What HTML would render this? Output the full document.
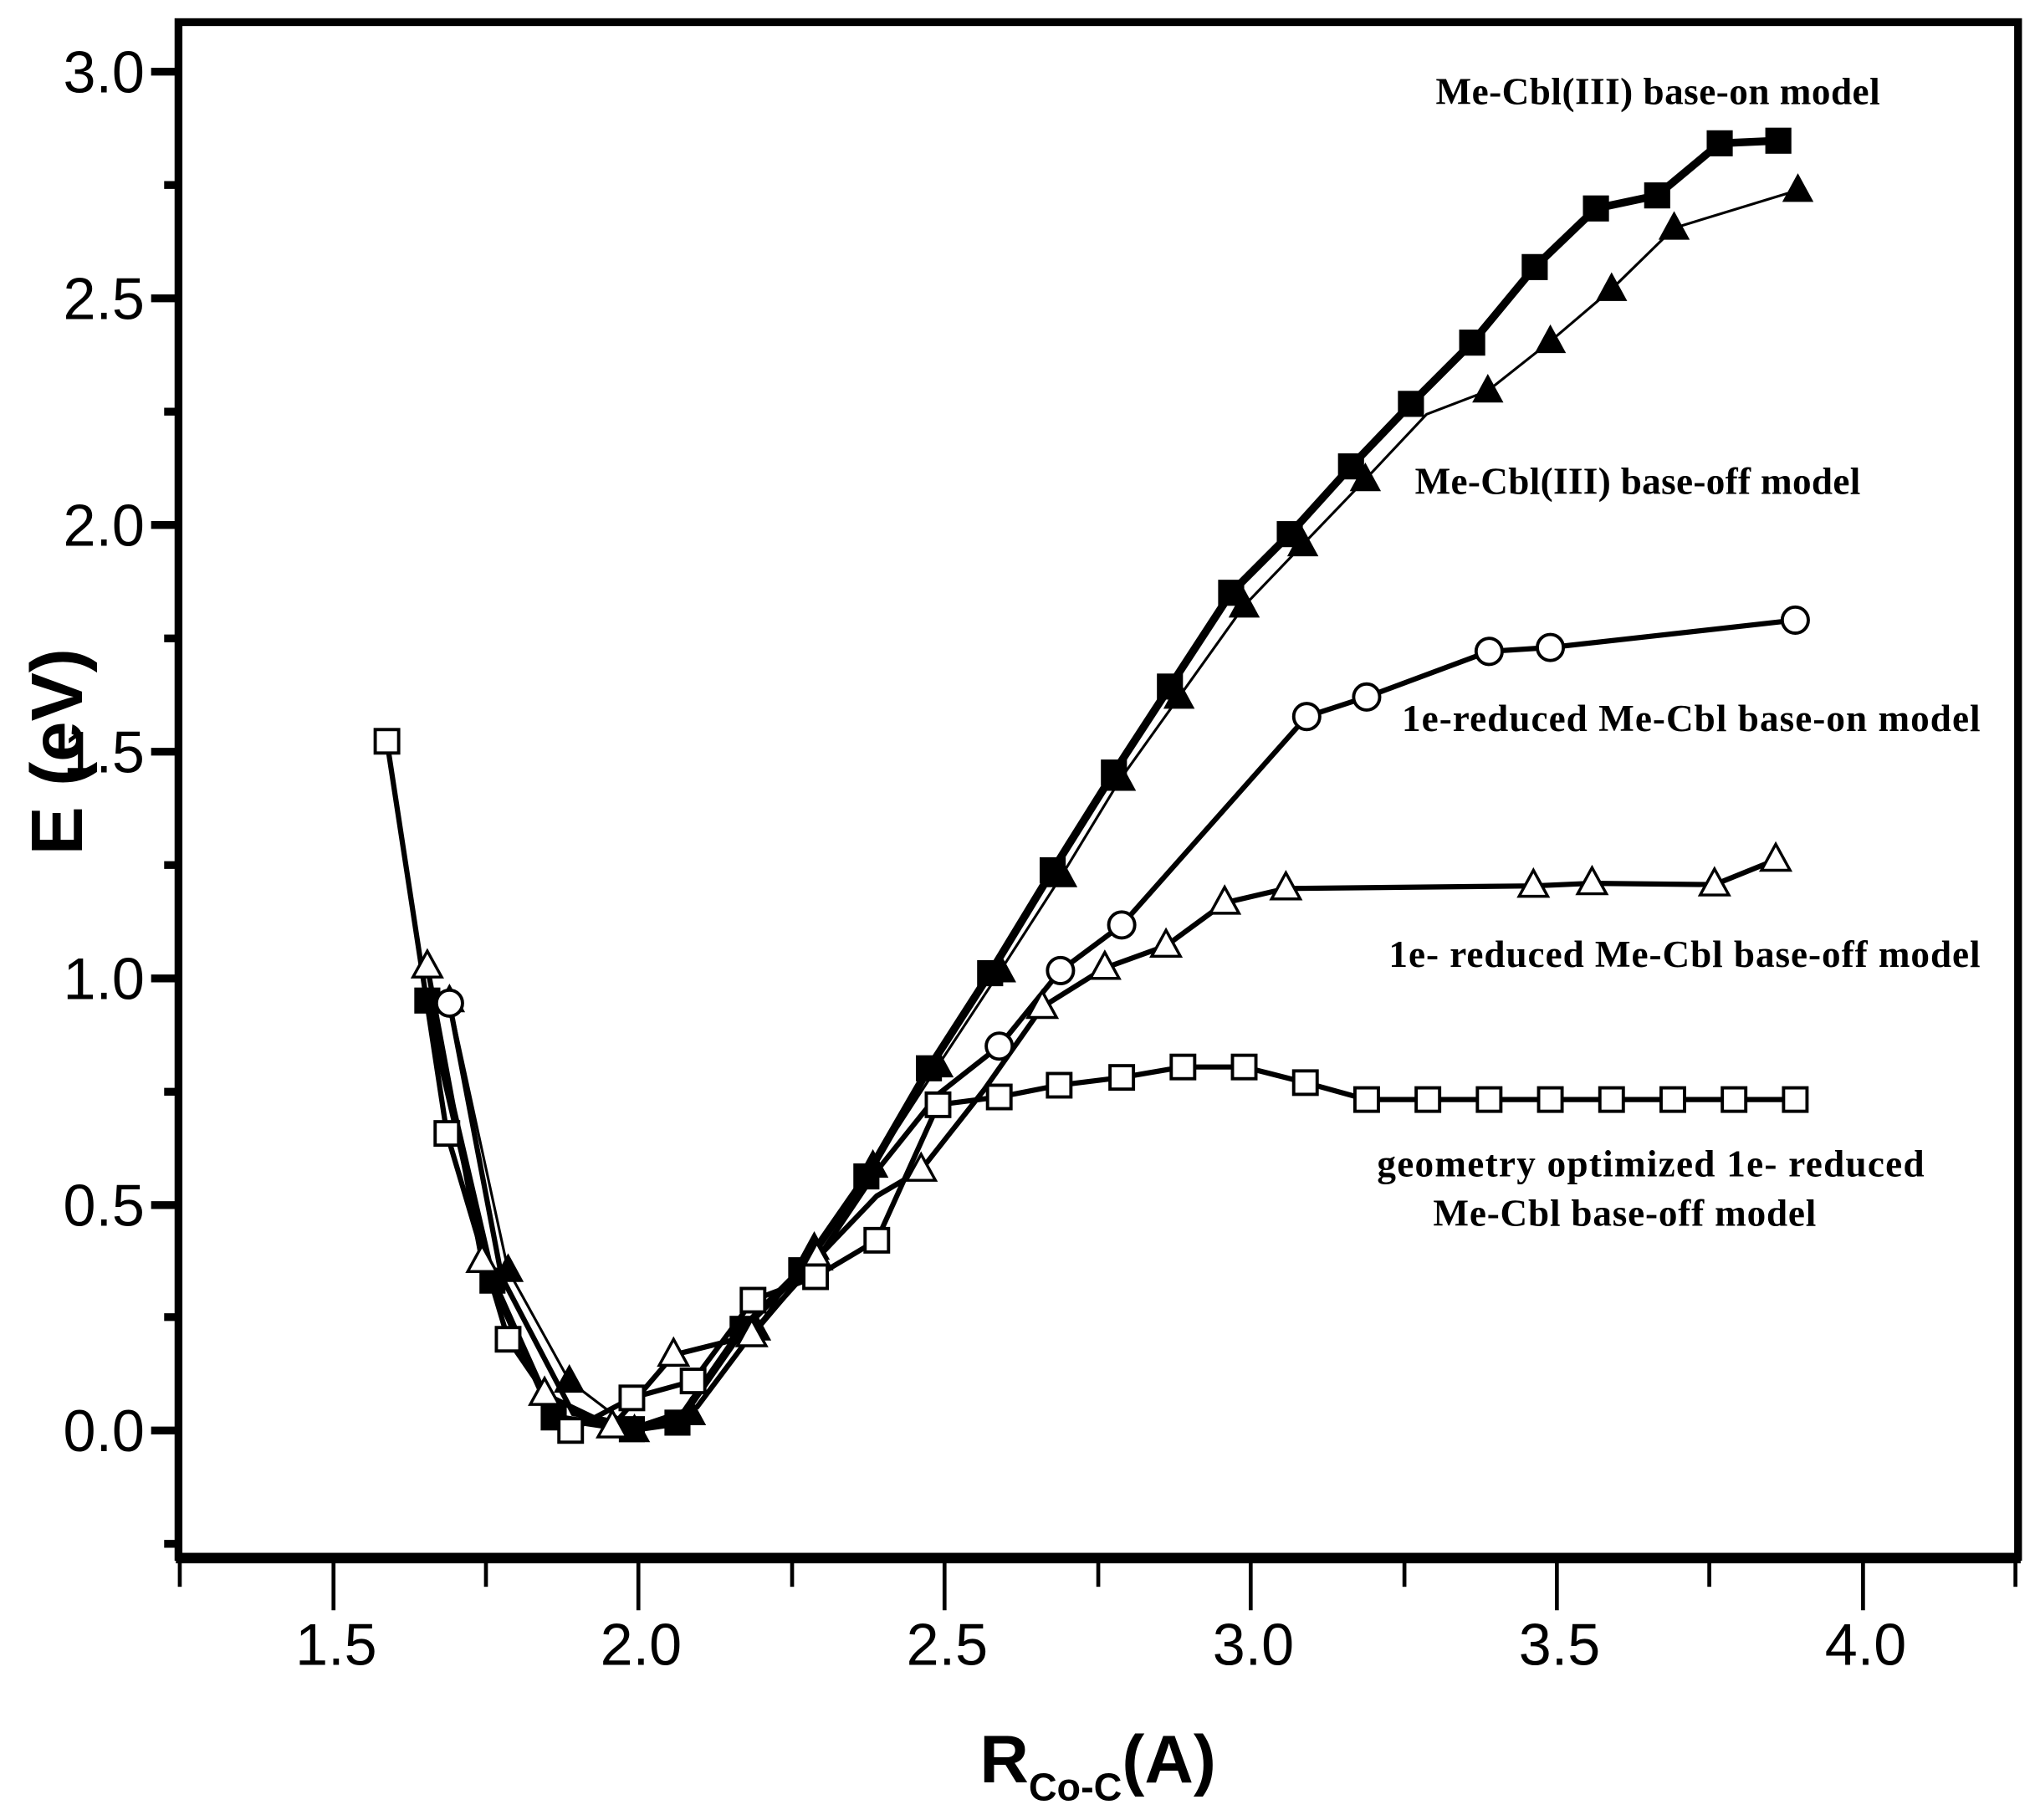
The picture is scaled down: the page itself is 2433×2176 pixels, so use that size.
<!DOCTYPE html>
<html><head><meta charset="utf-8"><style>html,body{margin:0;padding:0;background:#fff}svg{display:block}</style></head><body>
<svg width="2433" height="2176" viewBox="0 0 1562 1397" xmlns="http://www.w3.org/2000/svg" font-family="Liberation Sans, sans-serif">
<defs>
<rect id="fs" x="-10" y="-10" width="20" height="20" fill="#000"/>
<rect id="os" x="-9" y="-9" width="18" height="18" fill="#fff" stroke="#000" stroke-width="2.5"/>
<polygon id="ft" points="0,-13 12,9 -12,9" fill="#000"/>
<polygon id="ot" points="0,-12 11,8 -11,8" fill="#fff" stroke="#000" stroke-width="2.2"/>
<circle id="oc" r="10" fill="#fff" stroke="#000" stroke-width="2.5"/>
</defs>
<rect x="137" y="17" width="1412" height="1178" fill="none" stroke="#000" stroke-width="6"/>
<line x1="135" y1="1196" x2="1551" y2="1196" stroke="#000" stroke-width="8"/>
<g stroke="#000" stroke-width="6">
<line x1="116" y1="55" x2="137" y2="55"/><line x1="126" y1="142" x2="137" y2="142"/>
<line x1="116" y1="229" x2="137" y2="229"/><line x1="126" y1="316" x2="137" y2="316"/>
<line x1="116" y1="403" x2="137" y2="403"/><line x1="126" y1="490" x2="137" y2="490"/>
<line x1="116" y1="577" x2="137" y2="577"/><line x1="126" y1="664" x2="137" y2="664"/>
<line x1="116" y1="751" x2="137" y2="751"/><line x1="126" y1="838" x2="137" y2="838"/>
<line x1="116" y1="925" x2="137" y2="925"/><line x1="126" y1="1011" x2="137" y2="1011"/>
<line x1="116" y1="1098" x2="137" y2="1098"/><line x1="126" y1="1185" x2="137" y2="1185"/>
</g>
<g stroke="#000" stroke-width="3">
<line x1="138" y1="1196" x2="138" y2="1218"/><line x1="256" y1="1196" x2="256" y2="1236"/>
<line x1="373" y1="1196" x2="373" y2="1218"/><line x1="490" y1="1196" x2="490" y2="1236"/>
<line x1="608" y1="1196" x2="608" y2="1218"/><line x1="725" y1="1196" x2="725" y2="1236"/>
<line x1="843" y1="1196" x2="843" y2="1218"/><line x1="960" y1="1196" x2="960" y2="1236"/>
<line x1="1078" y1="1196" x2="1078" y2="1218"/><line x1="1195" y1="1196" x2="1195" y2="1236"/>
<line x1="1312" y1="1196" x2="1312" y2="1218"/><line x1="1430" y1="1196" x2="1430" y2="1236"/>
<line x1="1547" y1="1196" x2="1547" y2="1218"/>
</g>
<g font-size="45" text-anchor="end">
<text x="111" y="71">3.0</text><text x="111" y="245">2.5</text><text x="111" y="419">2.0</text>
<text x="111" y="593">1.5</text><text x="111" y="767">1.0</text><text x="111" y="941">0.5</text><text x="111" y="1114">0.0</text>
</g>
<g font-size="45" text-anchor="middle">
<text x="258" y="1278">1.5</text><text x="492" y="1278">2.0</text><text x="727" y="1278">2.5</text>
<text x="962" y="1278">3.0</text><text x="1197" y="1278">3.5</text><text x="1432" y="1278">4.0</text>
</g>
<text transform="translate(63,577) rotate(-90)" font-size="56" font-weight="bold" text-anchor="middle">E (eV)</text>
<text x="752" y="1368" font-size="52" font-weight="bold">R<tspan font-size="30" dy="14">Co-C</tspan><tspan dy="-14">(A)</tspan></text>
<g font-family="Liberation Serif, serif" font-weight="bold" font-size="29">
<text x="1102" y="80" textLength="341">Me-Cbl(III) base-on model</text>
<text x="1086" y="379" textLength="342">Me-Cbl(III) base-off model</text>
<text x="1076" y="561" textLength="444">1e-reduced Me-Cbl base-on model</text>
<text x="1066" y="742" textLength="454">1e- reduced Me-Cbl base-off model</text>
<text x="1057" y="903" textLength="420">geometry optimized 1e- reduced</text>
<text x="1100" y="941" textLength="294">Me-Cbl base-off model</text>
</g>
<polyline fill="none" stroke="#000" stroke-width="4" points="297,569 343,870 390,1028 438,1098 485,1073 532,1060 578,998 626,980 673,952 720,848 767,842 813,833 861,827 908,819 955,819 1002,831 1049,844 1096,844 1143,844 1190,844 1237,844 1284,844 1331,844 1378,844"/>
<polyline fill="none" stroke="#000" stroke-width="4" points="328,742 370,968 418,1070 470,1095 517,1040 577,1025 627,966 673,918 707,898 755,837 800,773 848,743 895,726 940,693 987,682 1177,680 1222,678 1316,679 1363,660"/>
<polyline fill="none" stroke="#000" stroke-width="4" points="345,770 385,980 440,1085 490,1095 535,1080 580,1020 625,970 672,900 720,840 767,803 814,745 861,710 1003,550 1049,535 1143,500 1190,497 1378,476"/>
<polyline fill="none" stroke="#000" stroke-width="2" points="345,768 390,975 437,1060 487,1098 530,1085 580,1020 625,958 670,895 720,818 768,745 815,672 860,598 905,535 955,465 1000,418 1048,368 1095,318 1142,300 1190,262 1237,222 1285,175 1380,146"/>
<polyline fill="none" stroke="#000" stroke-width="6" points="328,768 378,983 425,1088 485,1097 520,1092 570,1020 615,975 665,903 713,820 760,747 808,668 855,593 898,527 945,455 990,410 1037,358 1083,310 1130,263 1178,205 1225,160 1272,150 1320,110 1365,108"/>
<g>
<use href="#fs" x="328" y="768"/><use href="#fs" x="378" y="983"/><use href="#fs" x="425" y="1088"/><use href="#fs" x="485" y="1097"/><use href="#fs" x="520" y="1092"/><use href="#fs" x="570" y="1020"/><use href="#fs" x="615" y="975"/><use href="#fs" x="665" y="903"/><use href="#fs" x="713" y="820"/><use href="#fs" x="760" y="747"/><use href="#fs" x="808" y="668"/><use href="#fs" x="855" y="593"/><use href="#fs" x="898" y="527"/><use href="#fs" x="945" y="455"/><use href="#fs" x="990" y="410"/><use href="#fs" x="1037" y="358"/><use href="#fs" x="1083" y="310"/><use href="#fs" x="1130" y="263"/><use href="#fs" x="1178" y="205"/><use href="#fs" x="1225" y="160"/><use href="#fs" x="1272" y="150"/><use href="#fs" x="1320" y="110"/><use href="#fs" x="1365" y="108"/>
</g>
<g>
<use href="#ft" x="345" y="768"/><use href="#ft" x="390" y="975"/><use href="#ft" x="437" y="1060"/><use href="#ft" x="487" y="1098"/><use href="#ft" x="530" y="1085"/><use href="#ft" x="580" y="1020"/><use href="#ft" x="625" y="958"/><use href="#ft" x="670" y="895"/><use href="#ft" x="720" y="818"/><use href="#ft" x="768" y="745"/><use href="#ft" x="815" y="672"/><use href="#ft" x="860" y="598"/><use href="#ft" x="905" y="535"/><use href="#ft" x="955" y="465"/><use href="#ft" x="1000" y="418"/><use href="#ft" x="1048" y="368"/><use href="#ft" x="1142" y="300"/><use href="#ft" x="1190" y="262"/><use href="#ft" x="1237" y="222"/><use href="#ft" x="1285" y="175"/><use href="#ft" x="1380" y="146"/>
</g>
<g>
<use href="#oc" x="345" y="770"/><use href="#oc" x="767" y="803"/><use href="#oc" x="814" y="745"/><use href="#oc" x="861" y="710"/><use href="#oc" x="1003" y="550"/><use href="#oc" x="1049" y="535"/><use href="#oc" x="1143" y="500"/><use href="#oc" x="1190" y="497"/><use href="#oc" x="1378" y="476"/>
</g>
<g>
<use href="#ot" x="328" y="742"/><use href="#ot" x="370" y="968"/><use href="#ot" x="418" y="1070"/><use href="#ot" x="470" y="1095"/><use href="#ot" x="517" y="1040"/><use href="#ot" x="577" y="1025"/><use href="#ot" x="627" y="966"/><use href="#ot" x="707" y="898"/><use href="#ot" x="800" y="773"/><use href="#ot" x="848" y="743"/><use href="#ot" x="895" y="726"/><use href="#ot" x="940" y="693"/><use href="#ot" x="987" y="682"/><use href="#ot" x="1177" y="680"/><use href="#ot" x="1222" y="678"/><use href="#ot" x="1316" y="679"/><use href="#ot" x="1363" y="660"/>
</g>
<g>
<use href="#os" x="297" y="569"/><use href="#os" x="343" y="870"/><use href="#os" x="390" y="1028"/><use href="#os" x="438" y="1098"/><use href="#os" x="485" y="1073"/><use href="#os" x="532" y="1060"/><use href="#os" x="578" y="998"/><use href="#os" x="626" y="980"/><use href="#os" x="673" y="952"/><use href="#os" x="720" y="848"/><use href="#os" x="767" y="842"/><use href="#os" x="813" y="833"/><use href="#os" x="861" y="827"/><use href="#os" x="908" y="819"/><use href="#os" x="955" y="819"/><use href="#os" x="1002" y="831"/><use href="#os" x="1049" y="844"/><use href="#os" x="1096" y="844"/><use href="#os" x="1143" y="844"/><use href="#os" x="1190" y="844"/><use href="#os" x="1237" y="844"/><use href="#os" x="1284" y="844"/><use href="#os" x="1331" y="844"/><use href="#os" x="1378" y="844"/>
</g>
</svg>
</body></html>
